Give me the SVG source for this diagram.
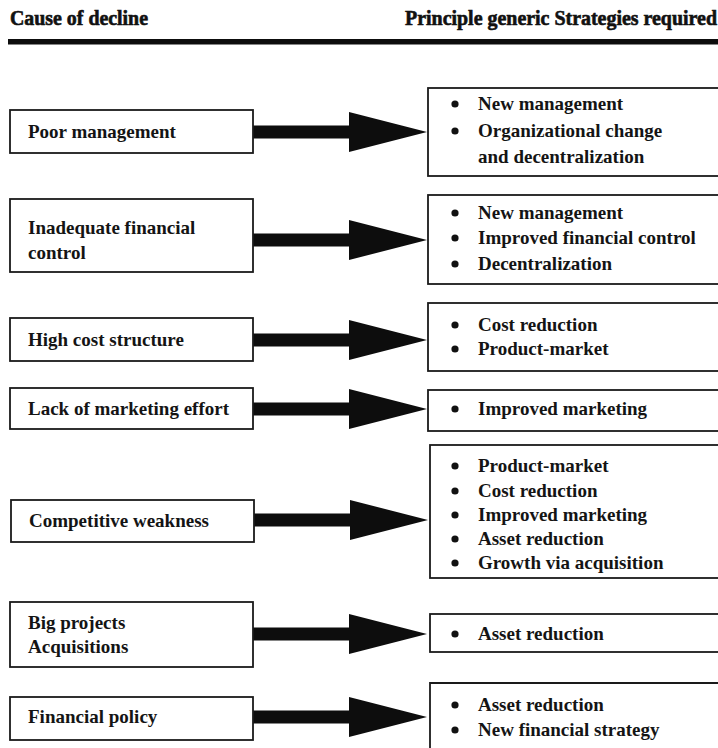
<svg xmlns="http://www.w3.org/2000/svg" width="718" height="748" viewBox="0 0 718 748">
  <style>
    .hdr { font-family: "Liberation Serif", "Times New Roman", serif; font-size: 20px; font-weight: bold; fill: #111; stroke: #111; stroke-width: 0.6; }
    .txt { font-family: "Liberation Serif", "Times New Roman", serif; font-size: 19px; font-weight: bold; fill: #141414; }
    .box { fill: #fff; stroke: #1a1a1a; stroke-width: 1.8; }
    .open { fill: none; stroke: #1a1a1a; stroke-width: 1.8; }
    .bul { fill: #111; }
    .arrow { fill: #0d0d0d; }
  </style>
  <defs>
    <!-- thick block arrow: shaft from x=0, head base at 96, tip at 174; centred on y=0 -->
    <path id="blockArrow" d="M0,-6.5 L96,-6.5 L96,-20 L174,0 L96,20 L96,6.5 L0,6.5 Z"/>
  </defs>

  <rect width="718" height="748" fill="#fff"/>

  <!-- column headings and rule -->
  <g id="header">
    <text class="hdr" x="10" y="25" textLength="138" lengthAdjust="spacingAndGlyphs">Cause of decline</text>
    <text class="hdr" x="405" y="25" textLength="312" lengthAdjust="spacingAndGlyphs">Principle generic Strategies required</text>
    <rect x="8" y="39" width="710" height="5.5" fill="#0d0d0d"/>
  </g>

  <!-- connectors -->
  <g id="connectors" class="arrow">
    <use href="#blockArrow" x="253" y="132"/>
    <use href="#blockArrow" x="253" y="240"/>
    <use href="#blockArrow" x="253" y="340"/>
    <use href="#blockArrow" x="253" y="409"/>
    <use href="#blockArrow" x="254" y="520"/>
    <use href="#blockArrow" x="253" y="634"/>
    <use href="#blockArrow" x="253" y="717"/>
  </g>

  <!-- causes -->
  <g id="cause-poor-management">
    <rect class="box" x="10" y="110" width="243" height="43"/>
    <text class="txt" x="28" y="138">Poor management</text>
  </g>
  <g id="cause-financial-control">
    <rect class="box" x="10" y="199" width="243" height="73"/>
    <text class="txt" x="28" y="234">Inadequate financial</text>
    <text class="txt" x="28" y="259">control</text>
  </g>
  <g id="cause-high-cost">
    <rect class="box" x="10" y="318" width="243" height="43"/>
    <text class="txt" x="28" y="346">High cost structure</text>
  </g>
  <g id="cause-marketing">
    <rect class="box" x="10" y="388" width="243" height="41"/>
    <text class="txt" x="28" y="415">Lack of marketing effort</text>
  </g>
  <g id="cause-competitive">
    <rect class="box" x="11" y="500" width="243" height="42"/>
    <text class="txt" x="29" y="527">Competitive weakness</text>
  </g>
  <g id="cause-big-projects">
    <rect class="box" x="10" y="602" width="243" height="65"/>
    <text class="txt" x="28" y="629">Big projects</text>
    <text class="txt" x="28" y="653">Acquisitions</text>
  </g>
  <g id="cause-financial-policy">
    <rect class="box" x="10" y="697" width="243" height="43"/>
    <text class="txt" x="28" y="723">Financial policy</text>
  </g>

  <!-- strategies -->
  <g id="strategy-1">
    <rect class="box" x="428" y="88" width="292" height="88"/>
    <circle class="bul" cx="455" cy="104" r="3.6"/>
    <text class="txt" x="478" y="110">New management</text>
    <circle class="bul" cx="455" cy="131" r="3.6"/>
    <text class="txt" x="478" y="137">Organizational change</text>
    <text class="txt" x="478" y="163">and decentralization</text>
  </g>
  <g id="strategy-2">
    <rect class="box" x="428" y="195" width="292" height="89"/>
    <circle class="bul" cx="455" cy="213" r="3.6"/>
    <text class="txt" x="478" y="219">New management</text>
    <circle class="bul" cx="455" cy="238" r="3.6"/>
    <text class="txt" x="478" y="244">Improved financial control</text>
    <circle class="bul" cx="455" cy="264" r="3.6"/>
    <text class="txt" x="478" y="270">Decentralization</text>
  </g>
  <g id="strategy-3">
    <rect class="box" x="428" y="303" width="292" height="68"/>
    <circle class="bul" cx="455" cy="325" r="3.6"/>
    <text class="txt" x="478" y="331">Cost reduction</text>
    <circle class="bul" cx="455" cy="349" r="3.6"/>
    <text class="txt" x="478" y="355">Product-market</text>
  </g>
  <g id="strategy-4">
    <rect class="box" x="428" y="390" width="292" height="41"/>
    <circle class="bul" cx="455" cy="409" r="3.6"/>
    <text class="txt" x="478" y="415">Improved marketing</text>
  </g>
  <g id="strategy-5">
    <rect class="box" x="430" y="445" width="290" height="133"/>
    <circle class="bul" cx="455" cy="466" r="3.6"/>
    <text class="txt" x="478" y="472">Product-market</text>
    <circle class="bul" cx="455" cy="491" r="3.6"/>
    <text class="txt" x="478" y="497">Cost reduction</text>
    <circle class="bul" cx="455" cy="515" r="3.6"/>
    <text class="txt" x="478" y="521">Improved marketing</text>
    <circle class="bul" cx="455" cy="539" r="3.6"/>
    <text class="txt" x="478" y="545">Asset reduction</text>
    <circle class="bul" cx="455" cy="563" r="3.6"/>
    <text class="txt" x="478" y="569">Growth via acquisition</text>
  </g>
  <g id="strategy-6">
    <rect class="box" x="430" y="614" width="290" height="38"/>
    <circle class="bul" cx="455" cy="634" r="3.6"/>
    <text class="txt" x="478" y="640">Asset reduction</text>
  </g>
  <g id="strategy-7">
    <path class="open" d="M430,752 L430,683 L720,683"/>
    <circle class="bul" cx="455" cy="705" r="3.6"/>
    <text class="txt" x="478" y="711">Asset reduction</text>
    <circle class="bul" cx="455" cy="730" r="3.6"/>
    <text class="txt" x="478" y="736">New financial strategy</text>
  </g>
</svg>
